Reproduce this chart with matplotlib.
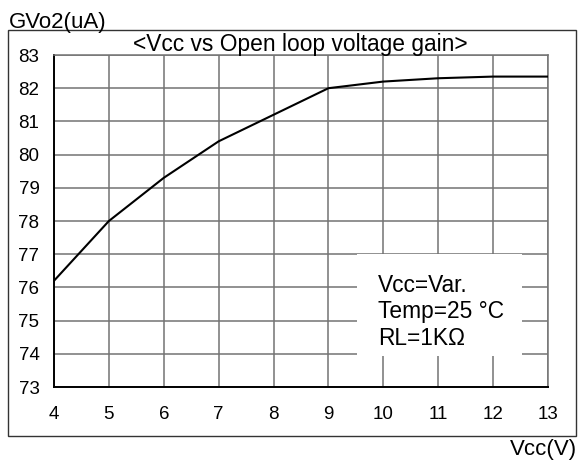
import matplotlib
matplotlib.use("Agg")
import matplotlib.pyplot as plt
from matplotlib.patches import Rectangle

plt.rcParams['font.family'] = ['Liberation Sans', 'DejaVu Sans']

# Open loop voltage gain vs supply voltage
vcc = [4, 5, 6, 7, 8, 9, 10, 11, 12, 13]
gain = [76.2, 78.0, 79.3, 80.4, 81.2, 82.0, 82.2, 82.3, 82.35, 82.35]

x_ticks = list(range(4, 14))
y_ticks = list(range(73, 84))
conditions = ["Vcc=Var.", "Temp=25 \u00b0C", "RL=1K\u03a9"]

fig = plt.figure(figsize=(5.78, 4.65), dpi=100)
ax = fig.add_axes([0.0934, 0.1677, 0.8546, 0.714])

ax.plot(vcc, gain, color='black', lw=1.5, zorder=5)

ax.set_xlim(4, 13)
ax.set_ylim(73, 83)
ax.set_xticks(x_ticks)
ax.set_yticks(y_ticks)
ax.tick_params(axis='both', length=0, labelsize=13.5)
ax.tick_params(axis='y', pad=10.5)
ax.tick_params(axis='x', pad=14)
ax.grid(True, color='#737373', lw=1.1)

for side in ['top', 'right']:
    ax.spines[side].set_color('#737373')
    ax.spines[side].set_linewidth(1.1)
for side in ['left', 'bottom']:
    ax.spines[side].set_color('black')
    ax.spines[side].set_linewidth(1.4)

# white panel behind the test conditions
ax.add_patch(Rectangle((9.52, 73.92), 3.0, 3.08, facecolor='white',
                       edgecolor='none', zorder=3))
for txt, yv in zip(conditions, [75.86, 75.08, 74.27]):
    ax.text(9.9, yv, txt, fontsize=16.4, va='baseline', ha='left', zorder=6)

# outer frame
fig.patches.append(Rectangle((8 / 578, 1 - 436 / 465), 568 / 578, 406 / 465,
                             transform=fig.transFigure, fill=False,
                             edgecolor='#333333', lw=1.0))

fig.text(0.519, 1 - 51 / 465, "<Vcc vs Open loop voltage gain>", fontsize=16.4,
         ha='center', va='baseline')
fig.text(9 / 578, 1 - 28 / 465, "GVo2(uA)", fontsize=16, ha='left', va='baseline')
fig.text(577 / 578, 1 - 455 / 465, "Vcc(V)", fontsize=16, ha='right', va='baseline')

fig.savefig("out.png", dpi=100)
